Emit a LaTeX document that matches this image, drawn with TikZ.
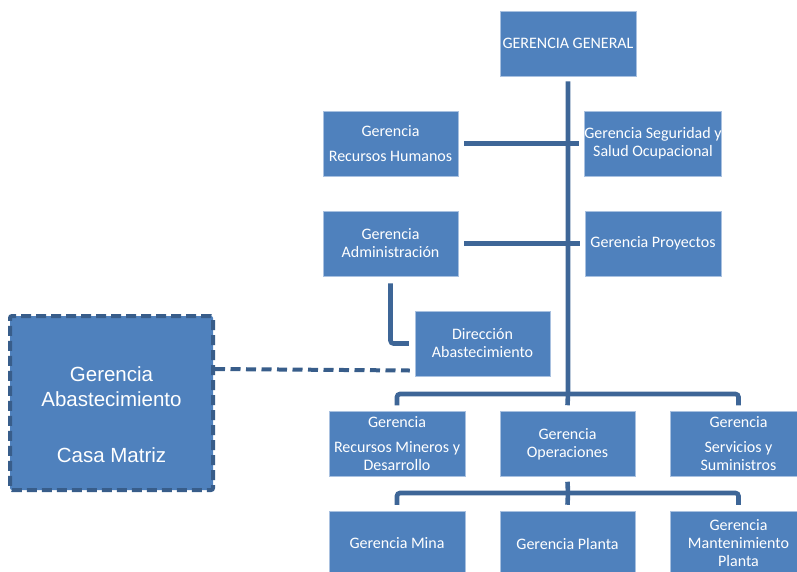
\documentclass[tikz,border=0pt]{standalone}
\usepackage{fontspec}
\setmainfont{Carlito}
\newfontfamily\arialfont{Liberation Sans}
\definecolor{boxblue}{HTML}{4F81BD}
\definecolor{boxedge}{HTML}{A9C1E0}
\definecolor{connblue}{HTML}{3E6697}
\definecolor{dashblue}{HTML}{385D8A}
\tikzset{
  orgbox/.style={fill=boxblue, draw=boxedge, line width=0.5pt, minimum width=136pt, minimum height=65pt,
    inner sep=0pt, text=white, align=center, font=\fontsize{16}{18}\selectfont},
  conn/.style={draw=connblue, line width=4.6pt},
  conn2/.style={draw=connblue, line width=4.6pt, rounded corners=3pt},
  dashconn/.style={draw=dashblue, line width=4pt, dash pattern=on 10pt off 5.5pt},
  bigbox/.style={fill=boxblue, draw=dashblue, line width=4pt, dash pattern=on 10pt off 5pt,
    rounded corners=2pt, minimum width=203pt, minimum height=174pt, inner sep=0pt},
  bigtext/.style={text=white, align=center, font=\arialfont\fontsize{20.5}{25}\selectfont}
}
\begin{document}
\begin{tikzpicture}[x=1pt,y=-1pt]
\useasboundingbox (0,0) rectangle (797,571);
\clip (0,0) rectangle (797,571);
% nodes
\node[orgbox] (gg) at (568,43.5) {GERENCIA GENERAL};
\node[orgbox, minimum width=135pt] (rh) at (390.5,143.5) {Gerencia\\[7pt]Recursos Humanos};
\node[orgbox] (seg) at (653,143.5) {Gerencia Seguridad y\\Salud Ocupacional};
\node[orgbox, minimum width=135pt] (adm) at (390.5,243.5) {Gerencia\\Administración};
\node[orgbox] (proy) at (653,243.5) {Gerencia Proyectos};
\node[orgbox, minimum width=135pt] (dir) at (482.5,343.5) {Dirección\\Abastecimiento};
\node[orgbox] (rm) at (397,444) {Gerencia\\[7pt]Recursos Mineros y\\Desarrollo};
\node[orgbox, minimum width=135pt] (op) at (567.5,444) {Gerencia\\Operaciones};
\node[orgbox] (ss) at (738.5,444) {Gerencia\\[7pt]Servicios y\\Suministros};
\node[orgbox] (mina) at (397,543.5) {Gerencia Mina};
\node[orgbox, minimum width=135pt] (planta) at (567.5,543.5) {Gerencia Planta};
\node[orgbox] (mant) at (738.5,543.5) {Gerencia\\Mantenimiento\\Planta};
\node[bigbox] (abast) at (111.5,403) {};
\node[bigtext] (abasttext) at (111.5,415) {Gerencia\\Abastecimiento\\[31pt]Casa Matriz};
% junctions
\coordinate (j1) at (568,394);
\coordinate (j2) at (568,493);
% connectors
\draw[conn] ([yshift=-5pt]gg.south) -- (j1) -- ([yshift=6pt]op.north);
\draw[conn] ([xshift=6pt]rh.east) -- ([xshift=-5pt]seg.west);
\draw[conn] ([xshift=6pt]adm.east) -- ([xshift=-5pt]proy.west);
\draw[conn2] ([yshift=-7pt]adm.south) |- ([xshift=-6pt]dir.west);
\draw[conn2] ([yshift=6pt]rm.north) |- (j1) -| ([yshift=6pt]ss.north);
\draw[conn] ([yshift=-5pt]op.south) -- (j2) -- ([yshift=6pt]planta.north);
\draw[conn2] ([yshift=6pt]mina.north) |- (j2) -| ([yshift=6pt]mant.north);
\draw[dashconn] ([yshift=34pt]abast.east) -- ([xshift=-5pt,yshift=-27pt]dir.west);
\end{tikzpicture}
\end{document}
